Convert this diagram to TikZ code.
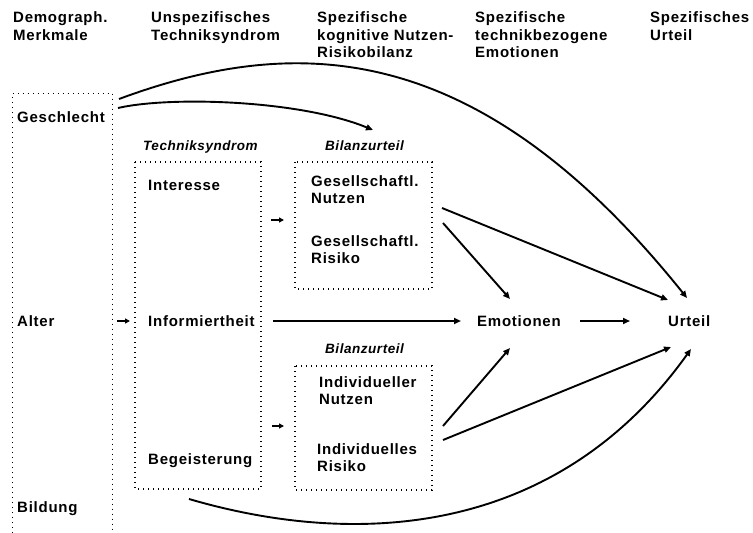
\documentclass[tikz,border=0pt]{standalone}
\usepackage{fontspec}
\setmainfont{Liberation Sans}[LetterSpace=5,
  UprightFont={* Bold}, BoldFont={* Bold},
  ItalicFont={* Bold Italic}, BoldItalicFont={* Bold Italic}]
\usetikzlibrary{arrows.meta}
\newcommand{\mylines}[1]{\begin{tabular}[t]{@{}l@{}}#1\end{tabular}}
\tikzset{
  lbl/.style={anchor=base west, inner sep=0pt, font=\fontsize{15}{17.5}\selectfont\bfseries},
  ital/.style={anchor=base west, inner sep=0pt, font=\fontsize{13.5}{15}\selectfont\bfseries\itshape\addfontfeatures{LetterSpace=4}},
  dotbox/.style={line width=1.3pt, dash pattern=on 1.3pt off 3.7pt},
  conn/.style={line width=1.9pt, -{Triangle[length=7pt,width=6pt]}},
  stub/.style={line width=1.9pt, -{Triangle[length=5pt,width=5pt]}},
}
\begin{document}
\begin{tikzpicture}[x=1pt,y=-1pt]
\useasboundingbox (0,0) rectangle (753,533);
% headers
\node[lbl] (h1) at (13,22.5) {\mylines{Demograph.\\Merkmale}};
\node[lbl] (h2) at (151,22.5) {\mylines{Unspezifisches\\Techniksyndrom}};
\node[lbl] (h3) at (317,22.5) {\mylines{Spezifische\\kognitive Nutzen-\\Risikobilanz}};
\node[lbl] (h4) at (475,22.5) {\mylines{Spezifische\\technikbezogene\\Emotionen}};
\node[lbl] (h5) at (650,22.5) {\mylines{Spezifisches\\Urteil}};
% dotted boxes
\draw[dotbox] (12.7,533) -- (12.7,93.3) -- (112.7,93.3) -- (112.7,533);
\draw[dotbox] (135,162) rectangle (261,489);
\draw[dotbox] (295,162) rectangle (432,289);
\draw[dotbox] (295,366) rectangle (432,490);
% labels
\node[lbl] (geschlecht) at (17,122) {Geschlecht};
\node[lbl] (alter) at (17,326) {Alter};
\node[lbl] (bildung) at (17,512) {Bildung};
\node[ital] (tslab) at (143,150) {Techniksyndrom};
\node[ital] (bil1) at (325,150) {Bilanzurteil};
\node[ital] (bil2) at (325,353) {Bilanzurteil};
\node[lbl] (interesse) at (148,190) {Interesse};
\node[lbl] (informiert) at (148,326) {Informiertheit};
\node[lbl] (begeist) at (148,464) {Begeisterung};
\node[lbl] (gn) at (311,186) {\mylines{Gesellschaftl.\\Nutzen}};
\node[lbl] (gr) at (311,246) {\mylines{Gesellschaftl.\\Risiko}};
\node[lbl] (inn) at (319,387) {\mylines{Individueller\\Nutzen}};
\node[lbl] (irr) at (317,454) {\mylines{Individuelles\\Risiko}};
\node[lbl] (emo) at (477,326) {Emotionen};
\node[lbl] (urteil) at (668,326) {Urteil};
% connector end points
\coordinate (gs1) at (119,99);   \coordinate (ue1) at (687,298);
\coordinate (gs2) at (118,108);  \coordinate (bz1) at (373,130);
\coordinate (al) at (117,321);   \coordinate (ts1) at (130,321);
\coordinate (ts2) at (271,220);  \coordinate (gb) at (284,220);
\coordinate (ts3) at (272,426);  \coordinate (ib) at (284,426);
\coordinate (inf) at (273,321);  \coordinate (em1) at (461,321);
\coordinate (em2) at (580,321);  \coordinate (ur1) at (630,321);
\coordinate (gbo1) at (442,208); \coordinate (ur2) at (668,300);
\coordinate (gbo2) at (443,223); \coordinate (em3) at (510,299);
\coordinate (ibo1) at (443,426); \coordinate (em4) at (510,348);
\coordinate (ibo2) at (443,440); \coordinate (ur3) at (671,347);
\coordinate (bd) at (189,499);   \coordinate (ur4) at (691,349);
% connectors
\draw[conn] (gs1) .. controls (300,32) and (480,40) .. (ue1);
\draw[conn] (gs2) .. controls (170,96) and (300,100) .. (bz1);
\draw[stub] (al) -- (ts1);
\draw[stub] (ts2) -- (gb);
\draw[stub] (ts3) -- (ib);
\draw[conn] (inf) -- (em1);
\draw[conn] (em2) -- (ur1);
\draw[conn] (gbo1) -- (ur2);
\draw[conn] (gbo2) -- (em3);
\draw[conn] (ibo1) -- (em4);
\draw[conn] (ibo2) -- (ur3);
\draw[conn] (bd) .. controls (360,549) and (558,535) .. (ur4);
\end{tikzpicture}
\end{document}
